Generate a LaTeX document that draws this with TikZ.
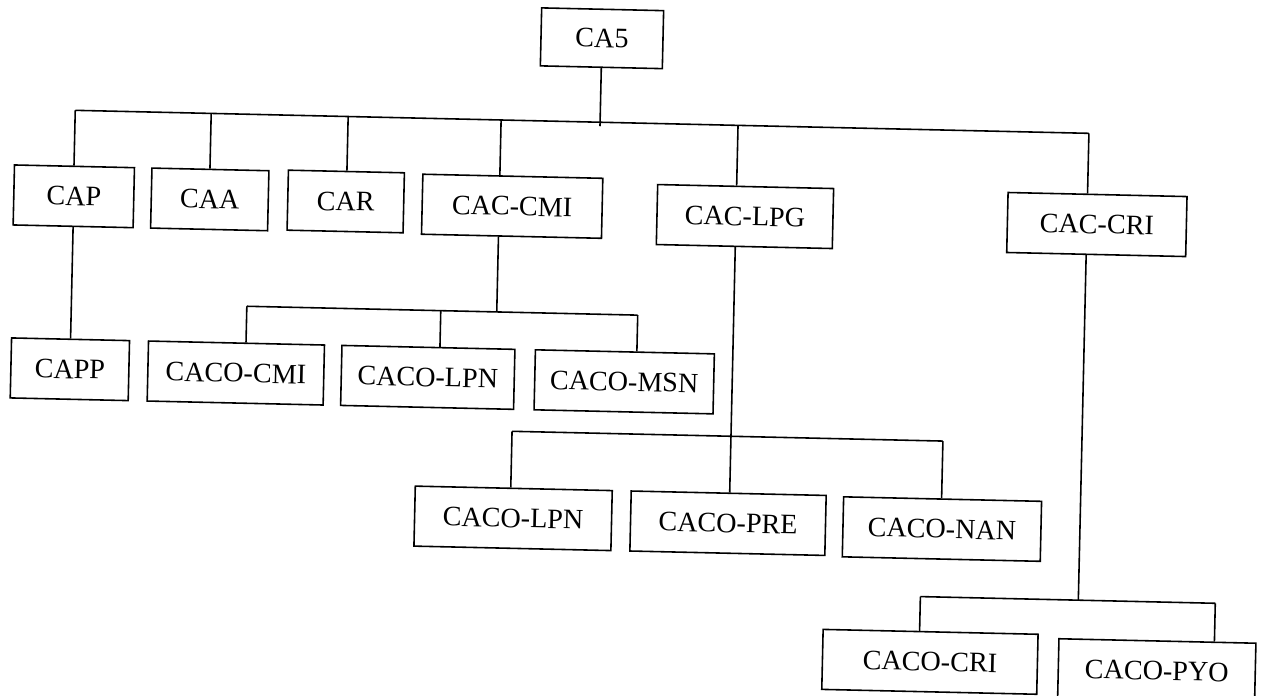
\documentclass[tikz,border=0pt]{standalone}
\usepackage{fontspec}
\setmainfont{Liberation Serif}
\usepackage{tikz}
\tikzstyle{box} = [rectangle, draw=black, minimum height=1.2cm, text centered, inner sep=0pt, font=\fontsize{16}{19}\selectfont]

\begin{document}
\begin{tikzpicture}[line width=0.9pt]
	\useasboundingbox (0,0) rectangle (25.3,-13.9);
	\begin{scope}[rotate around={-1.3:(12.64,-6.94)}, transform shape]
		\node[box, minimum width=2.44cm, minimum height=1.16cm] (ca5) at (11.90,-0.78) {CA5};

		\node[box, minimum width=2.4cm] (cap) at (1.41,-4.18) {CAP};
		\node[box, minimum width=2.34cm] (caa) at (4.13,-4.18) {CAA};
		\node[box, minimum width=2.32cm] (car) at (6.85,-4.16) {CAR};
		\node[box, minimum width=3.6cm] (cacCmi) at (10.18,-4.18) {CAC-CMI};
		\node[box, minimum width=3.52cm] (cacLpg) at (14.84,-4.28) {CAC-LPG};
		\node[box, minimum width=3.58cm] (cacCri) at (21.88,-4.28) {CAC-CRI};

		\node[box, minimum width=2.36cm] (capp) at (1.41,-7.64) {CAPP};
		\node[box, minimum width=3.52cm] (cacoCmi) at (4.73,-7.64) {CACO-CMI};
		\node[box, minimum width=3.46cm] (cacoLpn) at (8.57,-7.64) {CACO-LPN};
		\node[box, minimum width=3.58cm] (cacoMsn) at (12.50,-7.64) {CACO-MSN};

		\node[box, minimum width=3.94cm] (cacoLpnB) at (10.34,-10.42) {CACO-LPN};
		\node[box, minimum width=3.9cm] (cacoPre) at (14.64,-10.42) {CACO-PRE};
		\node[box, minimum width=3.96cm] (cacoNan) at (18.92,-10.44) {CACO-NAN};

		\node[box, minimum width=4.3cm] (cacoCri) at (18.74,-13.10) {CACO-CRI};
		\node[box, minimum width=3.94cm] (cacoPyo) at (23.28,-13.18) {CACO-PYO};

		\coordinate (tTail) at (11.90,-2.54);
		\coordinate (tCap) at (1.40,-2.46);
		\coordinate (tCaa) at (4.12,-2.46);
		\coordinate (tCar) at (6.86,-2.46);
		\coordinate (tCmi) at (9.92,-2.46);
		\coordinate (tLpg) at (14.66,-2.46);
		\coordinate (tCri) at (21.68,-2.46);

		\coordinate (sCmi) at (9.92,-6.30);
		\coordinate (sCmiA) at (4.92,-6.30);
		\coordinate (sCmiB) at (8.80,-6.30);
		\coordinate (sCmiC) at (12.74,-6.30);

		\coordinate (sLpg) at (14.66,-8.68);
		\coordinate (sLpgA) at (10.28,-8.68);
		\coordinate (sLpgB) at (18.90,-8.68);

		\coordinate (sCri) at (21.68,-11.80);
		\coordinate (sCriA) at (18.52,-11.80);
		\coordinate (sCriB) at (24.42,-11.80);

		\draw (ca5) -- (tTail);
		\draw (tCap) -- (tCri);
		\foreach \j/\n in {tCap/cap, tCaa/caa, tCar/car, tCmi/cacCmi, tLpg/cacLpg, tCri/cacCri}
			\draw (\j) -- (\j |- \n.north);

		\draw (cap) -- (capp);

		\draw (cacCmi.south -| sCmi) -- (sCmi);
		\draw (sCmiA) -- (sCmiC);
		\foreach \j/\n in {sCmiA/cacoCmi, sCmiB/cacoLpn, sCmiC/cacoMsn}
			\draw (\j) -- (\j |- \n.north);

		\draw (cacLpg.south -| sLpg) -- (sLpg |- cacoPre.north);
		\draw (sLpgA) -- (sLpgB);
		\foreach \j/\n in {sLpgA/cacoLpnB, sLpgB/cacoNan}
			\draw (\j) -- (\j |- \n.north);

		\draw (cacCri.south -| sCri) -- (sCri);
		\draw (sCriA) -- (sCriB);
		\foreach \j/\n in {sCriA/cacoCri, sCriB/cacoPyo}
			\draw (\j) -- (\j |- \n.north);
	\end{scope}
\end{tikzpicture}
\end{document}
